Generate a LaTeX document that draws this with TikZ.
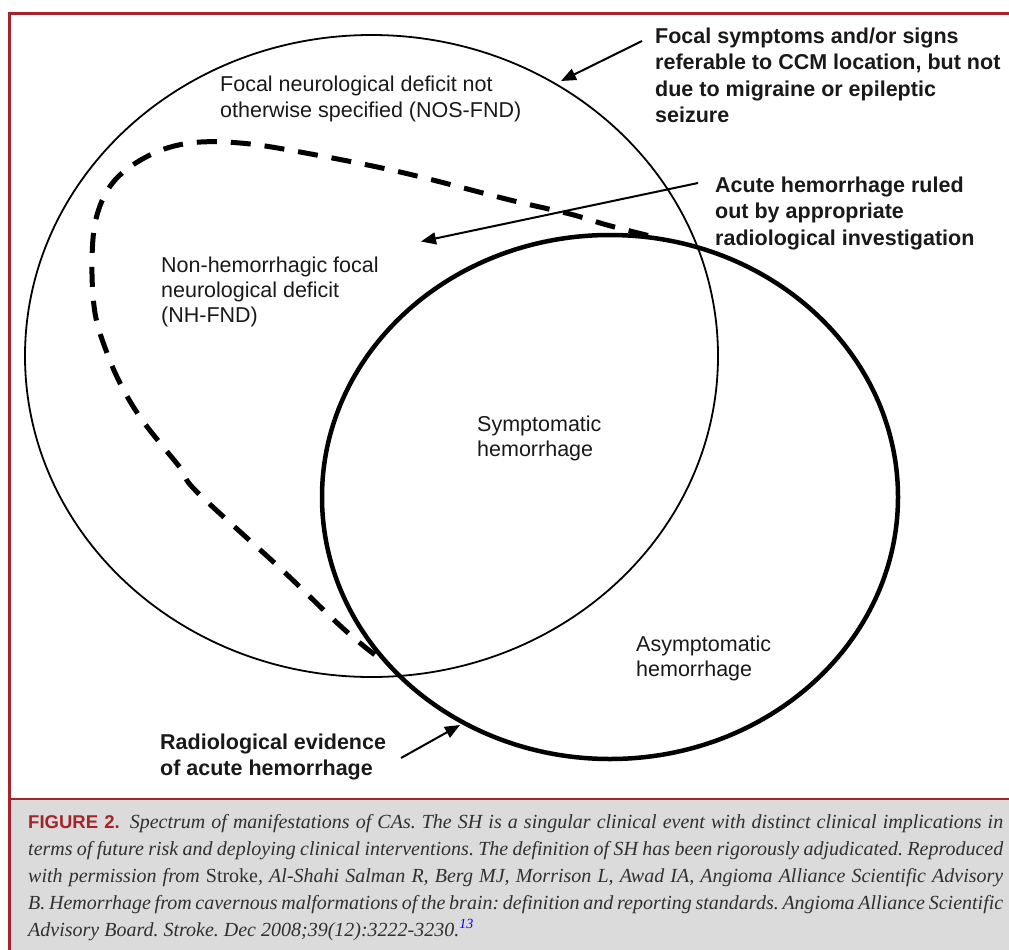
\documentclass[tikz,border=0pt]{standalone}
\usepackage{fontspec}
\setmainfont{Liberation Serif}
\newfontfamily\arialf{Liberation Sans}
\usetikzlibrary{arrows.meta}
\definecolor{frame}{HTML}{A5232A}
\definecolor{capbg}{HTML}{DBDBDB}
\definecolor{captext}{HTML}{303030}
\newcommand{\capline}[1]{\makebox[975pt][s]{#1}}
\tikzset{
  lbl/.style={font=\arialf\fontsize{21.5}{25.3}\selectfont, align=left, anchor=base west, inner sep=0pt, text=black!90},
  blbl/.style={lbl, font=\arialf\bfseries\fontsize{21.5}{26.5}\selectfont},
  thin/.style={line width=1.8pt},
  thick/.style={line width=4.5pt},
  dsh/.style={line width=5pt, dash pattern=on 20pt off 14pt},
  arr/.style={line width=2pt, -{Triangle[length=15pt,width=12pt]}},
}
\begin{document}
\begin{tikzpicture}[x=1pt,y=-1pt]
\useasboundingbox (0,0) rectangle (1009,950);
% frame and caption
\fill[capbg] (10,799) rectangle (1009,950);
\draw[frame, line width=2.5pt] (1009,13.5) -- (9.5,13.5) -- (9.5,950);
\draw[frame, line width=1.5pt] (10,799) -- (1009,799);
% ellipses
\draw[thin] (371.5,356) ellipse [x radius=346.5, y radius=321];
\draw[thick] (610,497) ellipse [x radius=288, y radius=262];
% dashed
\draw[dsh] plot[smooth, tension=0.6] coordinates {(648,235.5) (607,225) (570,214) (510,200) (400,172) (300,152) (240,143) (190,143) (150,155) (115,180) (97,215) (92,260) (95,313) (107,353) (122,387) (140,417) (160,443) (182,470) (197,492) (280,568) (334,620) (360,643) (379,658)};
% labels (anchored at the baseline of their last line)
\node[lbl] (nos) at (220,117) {Focal neurological deficit not\\otherwise specified (NOS-FND)};
\node[lbl] (nh) at (161,322.6) {Non-hemorrhagic focal\\neurological deficit\\(NH-FND)};
\node[lbl] (sh) at (477,456.9) {Symptomatic\\hemorrhage};
\node[lbl] (ah) at (636,676.3) {Asymptomatic\\hemorrhage};
\node[blbl] (fs) at (655,122.5) {Focal symptoms and/or signs\\referable to CCM location, but not\\due to migraine or epileptic\\seizure};
\node[blbl] (ar) at (715,245.4) {Acute hemorrhage ruled\\out by appropriate\\radiological investigation};
\node[blbl] (re) at (160,775.5) {Radiological evidence\\of acute hemorrhage};
% arrows
\coordinate (t1) at (561,81);
\coordinate (s1) at (642,41);
\coordinate (t2) at (421,241.5);
\coordinate (s2) at (698,183);
\coordinate (t3) at (460,725);
\coordinate (s3) at (401,758);
\draw[arr] (s1) -- (t1);
\draw[arr] (s2) -- (t2);
\draw[arr] (s3) -- (t3);
% caption
\node[anchor=base west, inner sep=0pt, align=left, text=captext,
  font=\fontsize{20}{27}\selectfont\frenchspacing\itshape] (cap) at (28,936)
{\capline{{\upshape\arialf\bfseries\fontsize{18.5}{27}\selectfont\color{frame}FIGURE 2.}\enspace Spectrum of manifestations of CAs. The SH is a singular clinical event with distinct clinical implications in}\\
\capline{terms of future risk and deploying clinical interventions. The definition of SH has been rigorously adjudicated. Reproduced}\\
\capline{with permission from {\upshape Stroke}, Al-Shahi Salman R, Berg MJ, Morrison L, Awad IA, Angioma Alliance Scientific Advisory}\\
\capline{B. Hemorrhage from cavernous malformations of the brain: definition and reporting standards. Angioma Alliance Scientific}\\
Advisory Board. Stroke. Dec 2008;39(12):3222-3230.\textsuperscript{\color{blue}13}};
\end{tikzpicture}
\end{document}
